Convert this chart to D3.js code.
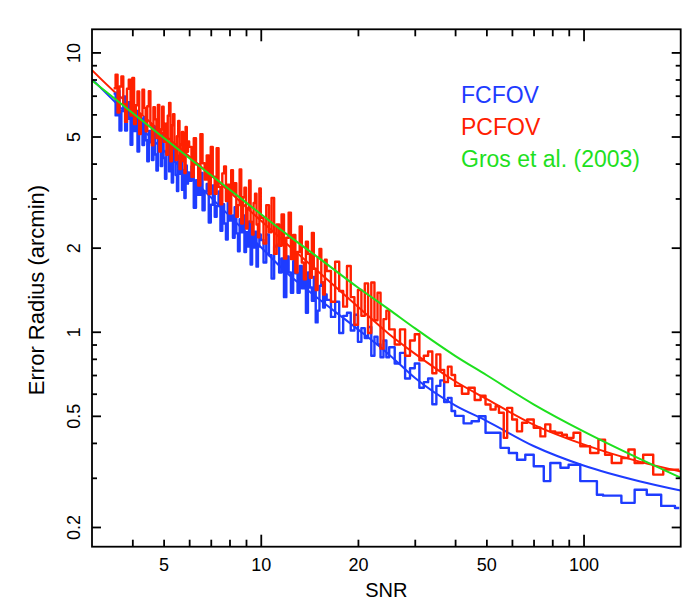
<!DOCTYPE html>
<html>
<head>
<meta charset="utf-8">
<script src="https://d3js.org/d3.v7.min.js"></script>
<style>
    body { margin: 0; background: #fff; }
    svg { display: block; font-family: "Liberation Sans", Arial, Helvetica, sans-serif; }
</style>
</head>
<body>
<svg id="chart" width="693" height="604"></svg>
<script>
/* Data */

// Smooth fits, sampled at these SNR values
const fitSnr = [3, 3.5, 4, 5, 6, 7, 8, 10, 12, 15, 20, 25, 30, 40, 50, 70, 100, 150, 200];
const fcfovFit = [8.02, 6.72, 5.76, 4.46, 3.61, 3.03, 2.60, 2.01, 1.63, 1.32, 1.02, 0.828, 0.684, 0.545, 0.48, 0.39, 0.332, 0.291, 0.27];
const pcfovFit = [8.64, 7.28, 6.40, 5.10, 4.25, 3.64, 3.17, 2.50, 2.07, 1.65, 1.23, 0.98, 0.835, 0.665, 0.575, 0.465, 0.395, 0.342, 0.316];
const grosFit = [7.94, 6.88, 6.08, 4.95, 4.19, 3.64, 3.23, 2.64, 2.24, 1.85, 1.44, 1.20, 1.03, 0.82, 0.70, 0.55, 0.44, 0.35, 0.30];

// Bin edges of the dense low-SNR part (shared by both histograms)
const lowSnr = [
    3.50, 3.55, 3.60, 3.65, 3.70, 3.75, 3.80, 3.85, 3.90, 3.95, 4.00, 4.05, 4.10, 4.15, 4.20, 4.25, 4.30,
    4.35, 4.40, 4.45, 4.50, 4.55, 4.60, 4.65, 4.70, 4.75, 4.80, 4.85, 4.90, 4.95, 5.00, 5.05, 5.10, 5.15,
    5.20, 5.25, 5.30, 5.35, 5.40, 5.45, 5.50, 5.55, 5.60, 5.65, 5.70, 5.75, 5.80, 5.85, 5.90, 5.95, 6.00,
    6.1, 6.2, 6.3, 6.4, 6.5, 6.6, 6.7, 6.8, 6.9, 7.0, 7.1, 7.2, 7.3, 7.4, 7.5, 7.6, 7.7, 7.8, 7.9, 8.0,
    8.1, 8.2, 8.3, 8.4, 8.5, 8.6, 8.7, 8.8, 8.9, 9.0, 9.1, 9.2, 9.3, 9.4, 9.5, 9.6, 9.7, 9.8, 9.9, 10.0,
    10.2, 10.4, 10.6, 10.8, 11.0, 11.2, 11.4, 11.6, 11.8, 12.0, 12.2, 12.4, 12.6, 12.8, 13.0, 13.2, 13.4,
    13.6, 13.8, 14.0, 14.2, 14.4, 14.6, 14.8, 15.0, 15.2, 15.4, 15.6, 15.8, 16.0,
    16.5, 17.0, 17.5, 18.0, 18.5, 19.0, 19.5, 20.0, 20.5, 21.0, 21.5, 22.0, 22.5, 23.0, 23.5, 24.0, 24.5, 25.0,
    26, 27, 28, 29, 30, 31, 32, 33, 34, 35, 36, 37, 38, 39, 40
];

// FCFOV histogram
const fcfovLowErr = [
    7.12, 5.95, 7.28, 5.25, 6.17, 6.96, 5.25, 5.78, 6.64, 4.67, 5.88, 5.23, 6.16, 4.42, 5.45, 5.80, 4.66,
    5.86, 4.85, 4.08, 5.23, 4.77, 4.12, 5.42, 4.31, 3.78, 4.95, 4.53, 3.92, 5.05, 4.19, 3.53, 4.45, 4.74,
    3.75, 4.04, 3.42, 4.61, 4.08, 3.64, 3.19, 4.27, 3.68, 4.33, 3.22, 3.72, 3.01, 3.94, 3.39, 3.72,
    3.47, 3.91, 2.78, 3.49, 3.09, 3.70, 2.72, 3.18, 3.38, 2.46, 2.85, 3.34, 2.58, 2.82, 3.18, 2.30, 2.86,
    2.44, 2.14, 2.89, 2.50, 2.61, 2.17, 2.79, 2.25, 1.94, 2.53, 2.27, 2.61, 1.93, 2.27, 2.02, 2.48, 1.74,
    2.20, 2.00, 2.28, 1.71, 2.02, 2.23,
    2.13, 1.77, 2.23, 1.88, 1.55, 2.02, 2.05, 1.63, 1.83, 1.33, 1.86, 1.63, 1.38, 1.79, 1.62, 1.38, 1.72,
    1.43, 1.59, 1.17, 1.63, 1.44, 1.29, 1.57, 1.08, 1.19, 1.46, 1.50, 1.22, 1.36,
    1.30, 1.13, 1.28, 0.99, 1.14, 1.17, 1.01, 1.15, 0.92, 1.03, 0.95, 1.04, 0.82, 0.96, 0.90, 0.81, 0.93, 0.81,
    0.88, 0.77, 0.84, 0.68, 0.74, 0.77, 0.63, 0.66, 0.68, 0.55, 0.64, 0.67, 0.56, 0.58, 0.52
];
const fcfovHighSnr = [40, 42.5, 45, 47.4, 49.7, 55.3, 58.7, 62.2, 66, 70.1, 75.3, 78.9, 84.8, 89.9, 97.7, 110, 115, 131, 144, 157, 174, 192, 198];
const fcfovHighErr = [0.50, 0.47, 0.478, 0.498, 0.435, 0.384, 0.368, 0.348, 0.363, 0.330, 0.292, 0.339, 0.326, 0.334, 0.292, 0.261, 0.259, 0.244, 0.272, 0.261, 0.238, 0.234];

// PCFOV histogram
const pcfovLowErr = [
    7.44, 8.33, 6.09, 7.55, 8.20, 6.53, 5.64, 7.41, 7.98, 5.94, 8.10, 5.54, 6.47, 7.25, 5.10, 6.00, 7.35,
    6.33, 5.22, 6.42, 7.26, 5.49, 4.65, 6.36, 5.76, 4.94, 6.48, 4.42, 5.30, 6.39, 4.79, 5.56, 4.30, 5.94,
    6.60, 4.08, 5.48, 6.01, 4.53, 4.12, 5.01, 5.69, 3.82, 4.69, 5.19, 4.08, 3.70, 5.41, 4.41, 4.80,
    4.59, 3.59, 4.93, 3.97, 3.34, 5.10, 4.01, 3.51, 4.28, 3.11, 4.59, 3.59, 3.12, 4.54, 3.30, 2.86, 3.69,
    3.91, 2.94, 3.36, 2.65, 3.79, 3.13, 3.40, 2.58, 2.84, 3.81, 2.44, 3.03, 3.28, 2.34, 2.75, 3.48, 2.47,
    2.23, 2.89, 3.12, 2.42, 2.18, 3.26,
    2.56, 2.07, 2.84, 2.27, 3.01, 1.90, 2.42, 2.03, 2.63, 1.83, 2.17, 2.67, 1.82, 2.22, 1.63, 1.93, 2.38,
    1.77, 1.54, 2.10, 1.90, 1.56, 2.26, 1.68, 1.41, 1.84, 1.98, 1.50, 1.36, 1.81,
    1.65, 1.28, 1.78, 1.40, 1.23, 1.72, 1.33, 1.06, 1.41, 1.14, 1.49, 0.99, 1.50, 1.10, 1.38, 0.87, 1.11, 1.19,
    1.02, 0.90, 1.02, 0.82, 0.93, 0.98, 0.79, 0.82, 0.85, 0.71, 0.83, 0.73, 0.66, 0.75, 0.70
];
const pcfovHighSnr = [40, 42, 44, 46, 48, 49.7, 51.5, 53.4, 54.7, 56.6, 58.0, 60.1, 62.2, 64.5, 66.9, 70.1, 73.5, 76.1, 78.9, 81.7, 85.7, 88.8, 93.1, 97.7, 104.8, 111.2, 116.6, 122.3, 131, 137.7, 144, 153, 164.4, 176.6, 198];
const pcfovHighErr = [0.64, 0.60, 0.63, 0.57, 0.59, 0.549, 0.527, 0.541, 0.513, 0.417, 0.534, 0.485, 0.440, 0.472, 0.485, 0.453, 0.422, 0.466, 0.440, 0.435, 0.428, 0.417, 0.435, 0.389, 0.368, 0.411, 0.363, 0.339, 0.353, 0.379, 0.339, 0.363, 0.308, 0.321];

// Axis ticks
const xMajorTicks = [10, 100];
const xMinorTicks = [4, 5, 6, 7, 8, 9, 20, 30, 40, 50, 60, 70, 80, 90];
const xTickLabels = [5, 10, 20, 50, 100];
const yMajorTicks = [0.2, 0.5, 1, 2, 5, 10];
const yMinorTicks = [0.3, 0.4, 0.6, 0.7, 0.8, 0.9, 3, 4, 6, 7, 8, 9];

const legendItems = [
    { label: 'FCFOV', color: '#1e3cff' },
    { label: 'PCFOV', color: '#ff2000' },
    { label: 'Gros et al. (2003)', color: '#1ee01e' }
];

/* Layout */
const plot = { left: 92, right: 680.7, top: 29.3, bottom: 546.7 };
const blue = '#1e3cff';
const red = '#ff2000';
const green = '#1ee01e';

const svg = d3.select('#chart');

const x = d3.scaleLog().domain([3, 200]).range([plot.left, plot.right]);
const y = d3.scaleLog().domain([0.17, 12.1]).range([plot.bottom, plot.top]);

// Clip data to the frame
svg.append('clipPath').attr('id', 'plot-clip')
    .append('rect')
    .attr('x', plot.left).attr('y', plot.top)
    .attr('width', plot.right - plot.left).attr('height', plot.bottom - plot.top);

const dataLayer = svg.append('g').attr('clip-path', 'url(#plot-clip)');

// Build step points: one point per bin left edge, plus the closing right edge
const stepPoints = (edges, values) => {
    const pts = values.map((v, i) => [edges[i], v]);
    pts.push([edges[values.length], values[values.length - 1]]);
    return pts;
};

const fcfovPts = stepPoints(lowSnr.concat(fcfovHighSnr.slice(1)), fcfovLowErr.concat(fcfovHighErr));
const pcfovPts = stepPoints(lowSnr.concat(pcfovHighSnr.slice(1)), pcfovLowErr.concat(pcfovHighErr));

const stepLine = d3.line().x((d) => x(d[0])).y((d) => y(d[1])).curve(d3.curveStepAfter);
const fitLine = d3.line().x((d) => x(d[0])).y((d) => y(d[1])).curve(d3.curveMonotoneX);

const zipFit = (vals) => fitSnr.map((s, i) => [s, vals[i]]);

const addPath = (d, color, width) => {
    dataLayer.append('path').attr('d', d)
        .attr('fill', 'none').attr('stroke', color).attr('stroke-width', width)
        .attr('stroke-linejoin', 'round');
};

// Fits under the histograms, Gros et al. on top
addPath(fitLine(zipFit(fcfovFit)), blue, 2);
addPath(fitLine(zipFit(pcfovFit)), red, 2);
addPath(stepLine(fcfovPts), blue, 2.4);
addPath(stepLine(pcfovPts), red, 2.4);
addPath(fitLine(zipFit(grosFit)), green, 2);

/* Axes: inward ticks on all four sides */
const styleTicks = (g) => {
    g.select('.domain').remove();
    g.selectAll('.tick line').attr('stroke', '#000').attr('stroke-width', 1.8);
};

const addTicks = (axisFn, scale, values, size, transform) => {
    svg.append('g')
        .attr('transform', transform)
        .call(axisFn(scale).tickValues(values).tickSize(-size).tickFormat(''))
        .call(styleTicks);
};

addTicks(d3.axisBottom, x, xMajorTicks, 12, `translate(0,${plot.bottom})`);
addTicks(d3.axisBottom, x, xMinorTicks, 7, `translate(0,${plot.bottom})`);
addTicks(d3.axisTop, x, xMajorTicks, 12, `translate(0,${plot.top})`);
addTicks(d3.axisTop, x, xMinorTicks, 7, `translate(0,${plot.top})`);
addTicks(d3.axisLeft, y, yMajorTicks, 9, `translate(${plot.left},0)`);
addTicks(d3.axisLeft, y, yMinorTicks, 5, `translate(${plot.left},0)`);
addTicks(d3.axisRight, y, yMajorTicks, 9, `translate(${plot.right},0)`);
addTicks(d3.axisRight, y, yMinorTicks, 5, `translate(${plot.right},0)`);

// X tick labels
svg.append('g')
    .attr('transform', `translate(0,${plot.bottom})`)
    .call(d3.axisBottom(x).tickValues(xTickLabels).tickSize(0).tickPadding(12).tickFormat(d3.format('~g')))
    .call((g) => g.select('.domain').remove())
    .call((g) => g.selectAll('text').attr('fill', '#000').style('font-size', '18px')
        .style('font-family', '"Liberation Sans", Arial, sans-serif'));

// Y tick labels, rotated
svg.append('g')
    .attr('transform', `translate(${plot.left},0)`)
    .call(d3.axisLeft(y).tickValues(yMajorTicks).tickSize(0).tickFormat(d3.format('~g')))
    .call((g) => g.select('.domain').remove())
    .call((g) => g.selectAll('text')
        .attr('fill', '#000')
        .attr('x', 0).attr('y', -12).attr('dy', 0)
        .attr('transform', 'rotate(-90)')
        .attr('text-anchor', 'middle')
        .style('font-size', '18px')
        .style('font-family', '"Liberation Sans", Arial, sans-serif'));

// Frame
svg.append('rect')
    .attr('x', plot.left).attr('y', plot.top)
    .attr('width', plot.right - plot.left).attr('height', plot.bottom - plot.top)
    .attr('fill', 'none').attr('stroke', '#000').attr('stroke-width', 1.8);

// Axis titles
svg.append('text')
    .attr('x', (plot.left + plot.right) / 2).attr('y', 597)
    .attr('text-anchor', 'middle').style('font-size', '20px')
    .text('SNR');

svg.append('text')
    .attr('transform', 'translate(44,290) rotate(-90)')
    .attr('text-anchor', 'middle').style('font-size', '22px')
    .text('Error Radius (arcmin)');

// Legend
svg.append('g').selectAll('text')
    .data(legendItems)
    .join('text')
    .attr('x', 461)
    .attr('y', (d, i) => 103 + i * 31.8)
    .attr('fill', (d) => d.color)
    .style('font-size', '23px')
    .text((d) => d.label);
</script>
</body>
</html>
